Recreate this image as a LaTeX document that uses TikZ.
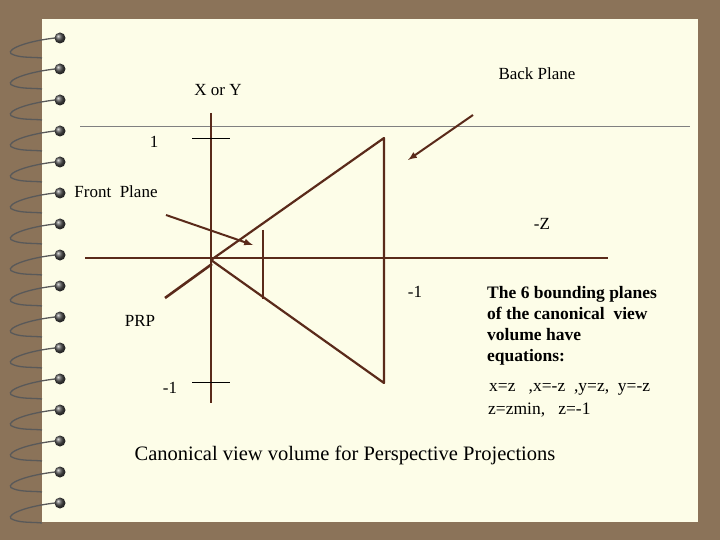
\documentclass[tikz,border=0pt]{standalone}
\usepackage{fontspec}
\setmainfont{Liberation Serif}
\begin{document}
\begin{tikzpicture}[x=1pt,y=-1pt,
  ln/.style={draw=lncol,line width=2.2pt},
  tk/.style={draw=black,line width=0.6pt},
  lab/.style={font=\fontsize{17}{19}\selectfont,inner sep=0pt},
  bd/.style={font=\bfseries\fontsize{17.5}{21}\selectfont,inner sep=0pt,align=left,anchor=north west}]
\definecolor{lncol}{HTML}{5A2A1A}
\definecolor{bg}{HTML}{8B7359}
\definecolor{paper}{HTML}{FDFDE8}
\useasboundingbox (0,0) rectangle (720,540);
\fill[bg] (0,0) rectangle (720,540);
\fill[paper] (42,19) rectangle (698,522);
\foreach \yy in {38,69,100,131,162,193,224,255,286,317,348,379,410,441,472,503}{
  \draw[gray!70!black,line width=1.3pt] (55,\yy) .. controls (20,\yy+4) and (2,\yy+14) .. (14,\yy+17) .. controls (22,\yy+20) and (34,\yy+19) .. (42,\yy+20);
  \shade[ball color=black!70] (60,\yy) circle (5.5);
}
\draw[gray,line width=0.6pt] (80,126) -- (690,126);
\coordinate (ax1) at (85,258); \coordinate (ax2) at (608,258);
\coordinate (ay1) at (211,113); \coordinate (ay2) at (211,403);
\draw[ln] (ax1) -- (ax2);
\draw[ln] (ay1) -- (ay2);
\coordinate (t1a) at (192,138); \coordinate (t1b) at (230,138);
\coordinate (t2a) at (192,382); \coordinate (t2b) at (230,382);
\draw[tk] (t1a) -- (t1b); \draw[tk] (t2a) -- (t2b);
\coordinate (apex) at (211,260); \coordinate (bt) at (384,138); \coordinate (bb) at (384,383);
\draw[ln,line join=round] (bt) -- (apex) -- (bb) -- cycle;
\coordinate (ft) at (263,230); \coordinate (fb) at (263,299);
\draw[ln] (ft) -- (fb);
\coordinate (a1s) at (473,115); \coordinate (a1e) at (408,160);
\draw[ln,line width=2pt,-latex] (a1s) -- (a1e);
\coordinate (a2s) at (166,215); \coordinate (a2e) at (253,245);
\draw[ln,line width=2pt,-latex] (a2s) -- (a2e);
\coordinate (a3s) at (165,298); \coordinate (a3e) at (212,264);
\draw[ln,line width=2.6pt] (a3s) -- (a3e);
\node[lab] (bp) at (537,74) {Back Plane};
\node[lab] (xy) at (218,90) {X or Y};
\node[lab] (one) at (154,142) {1};
\node[lab] (fp) at (116,192) {Front\ \ Plane};
\node[lab] (mz) at (542,224) {-Z};
\node[lab] (m1a) at (415,292) {-1};
\node[lab] (prp) at (140,321) {PRP};
\node[lab] (m1b) at (170,388) {-1};
\node[bd] (txt) at (487,286) {The 6 bounding planes\\of the canonical\ \ view\\volume have\\equations:};
\node[font=\fontsize{17.5}{19}\selectfont,inner sep=0pt,anchor=west] (eq1) at (489,389) {x=z\ \ \ ,x=-z\ \ ,y=z,\ \ y=-z};
\node[font=\fontsize{17.5}{19}\selectfont,inner sep=0pt,anchor=west] (eq2) at (488,410) {z=zmin,\ \ \ z=-1};
\node[font=\fontsize{20.5}{22}\selectfont,inner sep=0pt] (title) at (345,455) {Canonical view volume for Perspective Projections};
\end{tikzpicture}
\end{document}
